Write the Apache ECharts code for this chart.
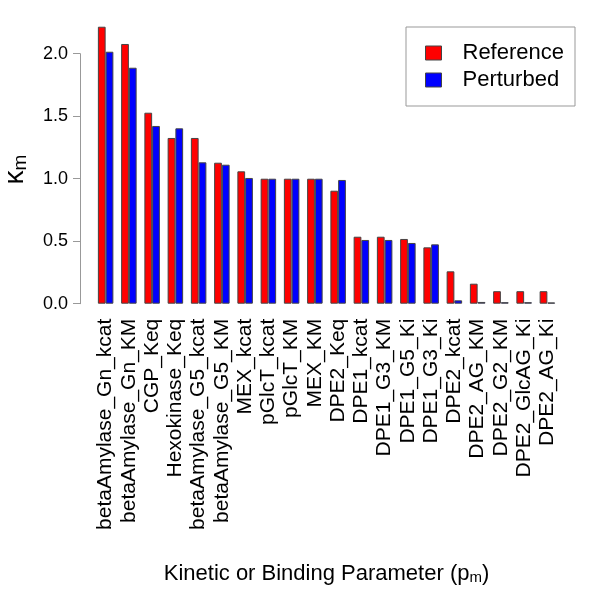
<!DOCTYPE html>
<html>
<head>
<meta charset="utf-8">
<script src="https://cdn.jsdelivr.net/npm/echarts@6/dist/echarts.min.js"></script>
<style>html,body{margin:0;padding:0;background:#fff}#c{width:600px;height:600px}</style>
</head>
<body>
<div id="c"></div>
<script>
const categories = ["betaAmylase_Gn_kcat","betaAmylase_Gn_KM","CGP_Keq","Hexokinase_Keq","betaAmylase_G5_kcat","betaAmylase_G5_KM","MEX_kcat","pGlcT_kcat","pGlcT_KM","MEX_KM","DPE2_Keq","DPE1_kcat","DPE1_G3_KM","DPE1_G5_Ki","DPE1_G3_Ki","DPE2_kcat","DPE2_AG_KM","DPE2_G2_KM","DPE2_GlcAG_Ki","DPE2_AG_Ki"];
const reference = [2.216,2.078,1.528,1.326,1.326,1.128,1.059,1.0,1.0,1.0,0.904,0.536,0.536,0.518,0.451,0.259,0.160,0.100,0.100,0.100];
const perturbed = [2.016,1.888,1.422,1.403,1.131,1.112,1.006,1.0,1.0,1.0,0.990,0.510,0.510,0.486,0.475,0.027,0.014,0.012,0.012,0.010];
const yTicks = [0, 0.5, 1.0, 1.5, 2.0];

const FONT = '"Liberation Sans", Arial, Helvetica, sans-serif';
const chart = echarts.init(document.getElementById('c'), null, {renderer: 'canvas'});
chart.setOption({
  animation: false,
  textStyle: {fontFamily: FONT},
  grid: [
    {left: 94, width: 465, top: 15.6, height: 288.1, outerBoundsMode: 'none', containLabel: false},
    {left: 80, width: 10, top: 53.7, height: 250, outerBoundsMode: 'none', containLabel: false}
  ],
  xAxis: [
    {type: 'category', gridIndex: 0, data: categories,
     axisLine: {show: false}, axisTick: {show: false},
     axisLabel: {rotate: 90, interval: 0, margin: 15, fontSize: 21, color: '#000', fontFamily: FONT},
     name: '{a|Kinetic or Binding Parameter (p}{s|m}{a|)}', nameLocation: 'middle', nameGap: 258,
     nameTextStyle: {rich: {
       a: {fontSize: 22, fontFamily: FONT, color: '#000'},
       s: {fontSize: 15, fontFamily: FONT, color: '#000', padding: [9, 0, 0, 0]}
     }}},
    {type: 'value', gridIndex: 1, show: false, min: 0, max: 1}
  ],
  yAxis: [
    {type: 'value', gridIndex: 0, min: 0, max: 2.305, show: true,
     axisLine: {show: false}, axisTick: {show: false}, axisLabel: {show: false}, splitLine: {show: false},
     name: '{k|κ}{s|m}', nameLocation: 'middle', nameRotate: 90, nameGap: 64,
     nameTextStyle: {padding: [0, 20, 0, 0], rich: {
       k: {fontSize: 28, fontFamily: FONT, color: '#000'},
       s: {fontSize: 19, fontFamily: FONT, color: '#000', padding: [10, 0, 0, 0]}
     }}},
    {type: 'value', gridIndex: 1, min: yTicks[0], max: yTicks[yTicks.length - 1], interval: 0.5,
     axisLine: {show: true, lineStyle: {color: '#999', width: 1}},
     axisTick: {show: true, length: 7, lineStyle: {color: '#999'}},
     axisLabel: {fontSize: 18, color: '#000', margin: 12, fontFamily: FONT, formatter: v => v.toFixed(1)},
     splitLine: {show: false}}
  ],
  legend: {
    orient: 'vertical', left: 406, top: 27,
    padding: [15, 11, 15, 19], itemGap: 5,
    itemWidth: 16, itemHeight: 14, itemStyle: {borderColor: '#444', borderWidth: 1},
    icon: 'rect',
    borderColor: '#999', borderWidth: 1,
    textStyle: {fontSize: 22, color: '#000', fontFamily: FONT, padding: [0, 0, 0, 16]},
    data: ['Reference', 'Perturbed']
  },
  series: [
    {name: 'Reference', type: 'bar', xAxisIndex: 0, yAxisIndex: 0, data: reference,
     barWidth: 7.75, barGap: '0%', itemStyle: {color: '#ff0000', borderColor: '#444', borderWidth: 1}},
    {name: 'Perturbed', type: 'bar', xAxisIndex: 0, yAxisIndex: 0, data: perturbed,
     barWidth: 7.75, barGap: '0%', itemStyle: {color: '#0000ff', borderColor: '#444', borderWidth: 1}}
  ]
});
</script>
</body>
</html>
